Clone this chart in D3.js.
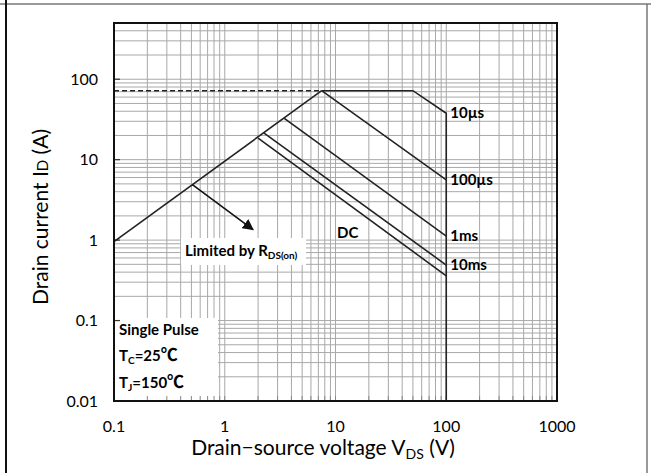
<!DOCTYPE html>
<html>
<head>
<meta charset="utf-8">
<script src="https://cdn.jsdelivr.net/npm/d3@7"></script>
<style>
  html, body { margin: 0; padding: 0; background: #fff; }
  svg { display: block; font-family: Lato, "Open Sans", sans-serif; }
</style>
</head>
<body>
<div id="chart"></div>
<script>
// tick values on both log axes
const xTicks = [0.1, 1, 10, 100, 1000];
const yTicks = [0.01, 0.1, 1, 10, 100];

// safe operating area curves, VDS (V) and ID (A)
const limitV = [0.1, 7.5];
const limitI = [0.96, 72];
const dashV = [0.1, 7.5];
const dashI = [72, 72];
const us10V = [7.5, 50, 100, 100];
const us10I = [72, 72, 37.8, 0.01];
const us100V = [7.5, 100];
const us100I = [72, 5.6];
const ms1V = [3.45, 100];
const ms1I = [32.7, 1.12];
const ms10V = [2.25, 100];
const ms10I = [21.5, 0.49];
const dcV = [2.0, 100];
const dcI = [18.5, 0.36];

// arrow pointing from the RDS(on) line to its label
const arrowV = [0.51, 1.8];
const arrowI = [4.9, 1.35];

const width = 651, height = 473;
const margin = {left: 114, right: 94, top: 23, bottom: 72};

const svg = d3.select("#chart")
  .append("svg")
  .attr("width", width)
  .attr("height", height);

// arrow head
svg.append("defs").append("marker")
  .attr("id", "head")
  .attr("viewBox", "0 0 10 10")
  .attr("refX", 9).attr("refY", 5)
  .attr("markerWidth", 7).attr("markerHeight", 7)
  .attr("orient", "auto")
  .append("path")
  .attr("d", "M0,0 L10,5 L0,10 z")
  .attr("fill", "#111");

const xScale = d3.scaleLog()
  .domain([0.1, 1000])
  .range([margin.left, width - margin.right]);

const yScale = d3.scaleLog()
  .domain([0.01, 500])
  .range([height - margin.bottom, margin.top]);

// outer frame like a table cell
svg.append("line").attr("x1", 0).attr("x2", width).attr("y1", 4).attr("y2", 4)
  .attr("stroke", "#777").attr("stroke-width", 1.5);
svg.append("line").attr("x1", 6).attr("x2", 6).attr("y1", 0).attr("y2", height)
  .attr("stroke", "#111").attr("stroke-width", 2);
svg.append("line").attr("x1", 647).attr("x2", 647).attr("y1", 4).attr("y2", height)
  .attr("stroke", "#777").attr("stroke-width", 1.5);

// minor + major grid values (1..9 per decade)
const xGrid = [];
for (let d = 0.1; d < 1000; d *= 10) for (let k = 1; k < 10; k++) xGrid.push(+(k * d).toPrecision(3));
xGrid.push(1000);
const yGrid = [];
for (let d = 0.01; d < 500; d *= 10) for (let k = 1; k < 10; k++) {
  const v = +(k * d).toPrecision(3);
  if (v <= 500) yGrid.push(v);
}

const grid = svg.append("g").attr("stroke", "#a8a8a8").attr("stroke-width", 1);
grid.selectAll(".vg")
  .data(xGrid)
  .enter()
  .append("line")
  .attr("x1", d => xScale(d)).attr("x2", d => xScale(d))
  .attr("y1", yScale.range()[1]).attr("y2", yScale.range()[0]);
grid.selectAll(".hg")
  .data(yGrid)
  .enter()
  .append("line")
  .attr("y1", d => yScale(d)).attr("y2", d => yScale(d))
  .attr("x1", xScale.range()[0]).attr("x2", xScale.range()[1]);

// white boxes behind annotations
svg.append("rect").attr("x", 181).attr("y", 238).attr("width", 125).attr("height", 27).attr("fill", "#fff");
svg.append("rect").attr("x", margin.left).attr("y", 318).attr("width", 104).attr("height", 83).attr("fill", "#fff");

// small inner ticks on the bottom axis
svg.append("g").selectAll("line")
  .data(xGrid)
  .enter()
  .append("line")
  .attr("x1", d => xScale(d)).attr("x2", d => xScale(d))
  .attr("y1", yScale.range()[0]).attr("y2", yScale.range()[0] - 5)
  .attr("stroke", "#888").attr("stroke-width", 1);
// major ticks on the left axis
svg.append("g").selectAll("line")
  .data(yTicks)
  .enter()
  .append("line")
  .attr("y1", d => yScale(d)).attr("y2", d => yScale(d))
  .attr("x1", margin.left).attr("x2", margin.left + 6)
  .attr("stroke", "#333").attr("stroke-width", 1.2);

// curves
const line = d3.line().x(d => xScale(d[0])).y(d => yScale(d[1]));
const series = [
  [limitV, limitI], [us10V, us10I], [us100V, us100I],
  [ms1V, ms1I], [ms10V, ms10I], [dcV, dcI]
];
svg.append("g").selectAll("path")
  .data(series)
  .enter()
  .append("path")
  .attr("d", s => line(d3.zip(s[0], s[1])))
  .attr("fill", "none")
  .attr("stroke", "#222")
  .attr("stroke-width", 1.6);

svg.append("path")
  .attr("d", line(d3.zip(dashV, dashI)))
  .attr("fill", "none")
  .attr("stroke", "#222")
  .attr("stroke-width", 1.6)
  .attr("stroke-dasharray", "5,3");

svg.append("path")
  .attr("d", line(d3.zip(arrowV, arrowI)))
  .attr("stroke", "#111")
  .attr("stroke-width", 1.6)
  .attr("marker-end", "url(#head)");

// plot border
svg.append("rect")
  .attr("x", margin.left).attr("y", margin.top)
  .attr("width", xScale.range()[1] - margin.left)
  .attr("height", yScale.range()[0] - margin.top)
  .attr("fill", "none").attr("stroke", "#111").attr("stroke-width", 2);

// tick labels
svg.append("g").selectAll("text")
  .data(xTicks)
  .enter()
  .append("text")
  .attr("x", d => xScale(d))
  .attr("y", 432)
  .attr("text-anchor", "middle")
  .style("font-size", "16px")
  .text(d => d);
svg.append("g").selectAll("text")
  .data(yTicks)
  .enter()
  .append("text")
  .attr("x", 98)
  .attr("y", d => yScale(d))
  .attr("dy", "0.35em")
  .attr("text-anchor", "end")
  .style("font-size", "16px")
  .text(d => d);

// axis titles
const xt = svg.append("text").attr("x", 323).attr("y", 455)
  .attr("text-anchor", "middle").style("font-size", "21px");
xt.append("tspan").text("Drain\u2212source voltage V");
xt.append("tspan").attr("dy", 4).style("font-size", "14px").text("DS");
xt.append("tspan").attr("dy", -4).text(" (V)");

const yt = svg.append("text")
  .attr("transform", "translate(48,217) rotate(-90)")
  .attr("text-anchor", "middle").style("font-size", "21px");
yt.append("tspan").text("Drain current I");
yt.append("tspan").style("font-size", "15px").text("D");
yt.append("tspan").text(" (A)");

// curve labels at the 100 V end
const ends = [
  {t: "10\u00b5s", v: 37.8},
  {t: "100\u00b5s", v: 5.6},
  {t: "1ms", v: 1.12},
  {t: "10ms", v: 0.49}
];
svg.append("g").selectAll("text")
  .data(ends)
  .enter()
  .append("text")
  .attr("x", xScale(100) + 4)
  .attr("y", d => yScale(d.v))
  .attr("dy", "0.35em")
  .style("font-size", "15px")
  .style("font-weight", "bold")
  .text(d => d.t);

svg.append("text").attr("x", 337).attr("y", 233).attr("dy", "0.35em")
  .style("font-size", "15px").style("font-weight", "bold").text("DC");

const lim = svg.append("text").attr("x", 185).attr("y", 256)
  .style("font-size", "15px").style("font-weight", "bold");
lim.append("tspan").text("Limited by R");
lim.append("tspan").attr("dy", 3).style("font-size", "10px").text("DS(on)");

const cond = [
  {y: 330, main: "Single Pulse"},
  {y: 356, main: "T", sub: "C", rest: "=25", unit: "\u2103"},
  {y: 383, main: "T", sub: "J", rest: "=150", unit: "\u2103"}
];
cond.forEach(function(c) {
  const t = svg.append("text").attr("x", 119).attr("y", c.y).attr("dy", "0.35em")
    .style("font-size", "15px").style("font-weight", "bold");
  t.append("tspan").text(c.main);
  if (c.sub) {
    t.append("tspan").attr("dy", 3).style("font-size", "10px").text(c.sub);
    t.append("tspan").attr("dy", -3).text(c.rest);
    t.append("tspan").style("font-size", "17px").style("font-family", "'Noto Sans CJK SC'").text(c.unit);
  }
});
</script>
</body>
</html>
